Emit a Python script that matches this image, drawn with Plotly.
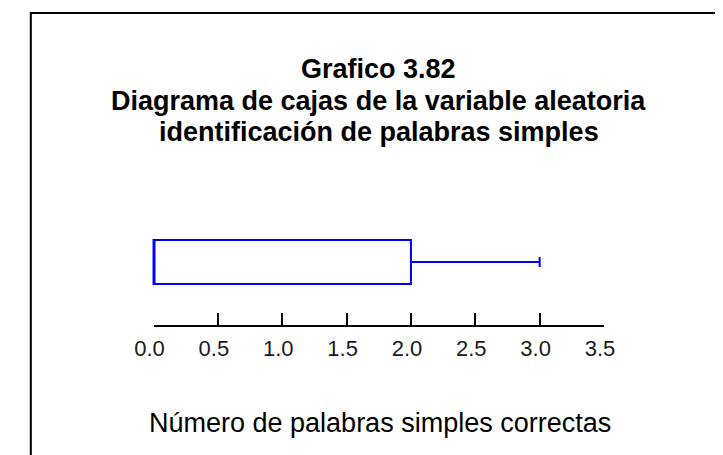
import plotly.graph_objects as go

W, H = 723, 455
OFF = 8   # page body margin of the html page

# textos
titulo = ["Grafico 3.82",
          "Diagrama de cajas de la variable aleatoria",
          "identificación de palabras simples"]
eje_x = "Número de palabras simples correctas"

# resumen de cinco números
minimo = [0.0]
q1 = [0.0]
mediana = [0.0]
q3 = [2.0]
maximo = [3.0]

tick_vals = [0, 0.5, 1.0, 1.5, 2.0, 2.5, 3.0, 3.5]
tick_text = ["0.0", "0.5", "1.0", "1.5", "2.0", "2.5", "3.0", "3.5"]

# pixel helpers (page pixels -> paper fraction)
px0, px1 = 140, 610           # 0.0 and 3.5 on screen
escala = (px1 - px0) / 3.5
def fx(p):
    return (p - OFF) / W
def fy(p):
    return 1 - (p - OFF) / H

fig = go.Figure()

fig.add_trace(go.Box(
    y=[0], q1=q1, median=mediana, q3=q3,
    lowerfence=minimo, upperfence=maximo,
    orientation="h", boxpoints=False,
    width=44 / 42, whiskerwidth=0.23,
    line=dict(color="#0000ff", width=2),
    fillcolor="rgba(0,0,0,0)",
    hoverinfo="skip", showlegend=False,
    xaxis="x", yaxis="y"))

# invisible trace so the tick axis is drawn
fig.add_trace(go.Scatter(x=[0, 3.5], y=[0, 0], mode="markers",
                         marker=dict(opacity=0), hoverinfo="skip",
                         showlegend=False, xaxis="x2", yaxis="y2"))

l_px, r_px = 100, 650
fig.update_layout(
    width=W, height=H,
    margin=dict(l=0, r=0, t=0, b=0),
    paper_bgcolor="white", plot_bgcolor="rgba(0,0,0,0)",
    font=dict(family="Liberation Sans, Arial, sans-serif", color="black"),
    xaxis=dict(domain=[fx(l_px), fx(r_px)],
               range=[(l_px - px0) / escala, (r_px - px0) / escala],
               visible=False, fixedrange=True),
    yaxis=dict(domain=[fy(304), fy(220)], range=[-1, 1],
               visible=False, fixedrange=True),
    xaxis2=dict(domain=[fx(px0), fx(px1)], range=[0, 3.5], anchor="y2",
                showline=True, linecolor="black", linewidth=2,
                ticks="inside", ticklen=12, tickwidth=2, tickcolor="black",
                tickvals=tick_vals, ticktext=tick_text,
                tickfont=dict(size=22, color="#1a1a1a"),
                ticklabelshift=-4, ticklabelstandoff=3,
                showgrid=False, zeroline=False, fixedrange=True),
    yaxis2=dict(domain=[fy(325), fy(310)], range=[0, 1],
                visible=False, fixedrange=True),
)

for txt, yc in zip(titulo, [69, 101, 132]):
    fig.add_annotation(text="<b>" + txt + "</b>", x=fx(375), y=fy(yc),
                       xref="paper", yref="paper", showarrow=False,
                       xanchor="center", yanchor="middle",
                       font=dict(size=27, color="black"))

fig.add_annotation(text=eje_x, x=fx(376), y=fy(423), xref="paper", yref="paper",
                   showarrow=False, xanchor="center", yanchor="middle",
                   font=dict(size=27, color="black"))

# marco
fig.add_shape(type="rect", xref="paper", yref="paper",
              x0=fx(12), x1=1.05, y0=-0.05, y1=fy(13),
              line=dict(color="black", width=2), fillcolor="rgba(0,0,0,0)")

fig.write_html("out.html")
